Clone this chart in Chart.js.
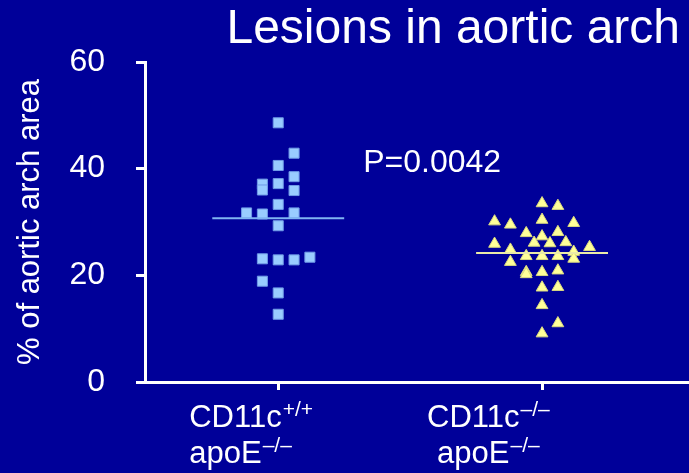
<!DOCTYPE html>
<html lang="en">
<head>
<meta charset="utf-8">
<title>Lesions in aortic arch</title>
<style>
  body { margin: 0; background: #000099; }
  canvas { display: block; }
</style>
</head>
<body>
<canvas id="chart" width="689" height="473"></canvas>
<script src="https://cdn.jsdelivr.net/npm/chart.js@4.4.1/dist/chart.umd.min.js"></script>
<script>
const chartTitle = 'Lesions in aortic arch';
const yTitle = '% of aortic arch area';
const pValueText = 'P=0.0042';
// each category label: lines of [text, superscript]
const categoryLines = [
  [['CD11c', '+/+'], ['apoE', '–/–']],
  [['CD11c', '–/–'], ['apoE', '–/–']]
];
const yTicks = [0, 20, 40, 60];

// CD11c+/+ apoE-/- (squares); slot = column offset within the dot plot
const wildValues = [48.6, 42.9, 40.6, 38.5, 37.1, 36.0, 37.2, 35.9, 33.3, 31.7,
                    31.5, 31.7, 29.3, 23.1, 22.9, 22.9, 23.4, 18.9, 16.7, 12.7];
const wildSlots  = [0, 1, 0, 1, -1, -1, 0, 1, 0, -2,
                    -1, 1, 0, -1, 0, 1, 2, -1, 0, 0];

// CD11c-/- apoE-/- (triangles)
const knockValues = [33.5, 33.0, 30.1, 29.5, 30.4, 29.8, 27.9, 27.3, 28.1, 26.1,
                     26.0, 26.2, 25.9, 24.8, 25.3, 24.4, 23.6, 23.6, 23.6, 23.1,
                     22.5, 20.6, 20.2, 20.6, 20.9, 17.7, 17.8, 14.4, 11.0, 9.1];
const knockSlots  = [0, 1, -3, -2, 0, 2, -1, 0, 1, -0.5,
                     0.5, 1.5, -3, -2, 3, 2, -1, 0, 1, 2,
                     -2, -1, -1, 0, 1, 0, 1, 0, 1, 0];

const groupMeans = [30.7, 24.2];

const slotWidth = 0.06;
const meanHalfWidth = 0.25;

function dots(values, slots, center) {
  return values.map((v, i) => ({ x: center + slots[i] * slotWidth, y: v }));
}
function meanLine(center, m) {
  return [{ x: center - meanHalfWidth, y: m }, { x: center + meanHalfWidth, y: m }];
}

const FONT = '"Liberation Sans", Arial, sans-serif';

const textPlugin = {
  id: 'slideText',
  beforeDraw(chart) {
    const ctx = chart.ctx;
    ctx.save();
    ctx.fillStyle = '#000099';
    ctx.fillRect(0, 0, chart.width, chart.height);
    ctx.restore();
  },
  afterDraw(chart) {
    const ctx = chart.ctx;
    const xs = chart.scales.x;
    const ys = chart.scales.y;
    ctx.save();
    ctx.fillStyle = '#ffffff';
    ctx.textBaseline = 'alphabetic';

    ctx.font = '48px ' + FONT;
    ctx.textAlign = 'right';
    ctx.fillText(chartTitle, 680, 43);

    ctx.font = '32px ' + FONT;
    ctx.textAlign = 'left';
    ctx.fillText(pValueText, xs.getPixelForValue(1.322), ys.getPixelForValue(39.4));

    const lineOffsets = [[-89, -89], [-115, -105]];
    categoryLines.forEach((lines, i) => {
      const cx = xs.getPixelForValue(i + 1);
      lines.forEach(([main, sup], j) => {
        const left = cx + lineOffsets[i][j];
        const base = 427 + j * 36;
        ctx.font = '31px ' + FONT;
        ctx.fillText(main, left, base);
        const w = ctx.measureText(main).width;
        ctx.font = '21px ' + FONT;
        ctx.fillText(sup, left + w + 1, base - 11);
      });
    });
    ctx.restore();
  }
};

new Chart(document.getElementById('chart'), {
  type: 'scatter',
  data: {
    datasets: [
      {
        type: 'line',
        data: meanLine(1, groupMeans[0]),
        borderColor: '#7fb4f2',
        borderWidth: 2,
        pointRadius: 0,
        order: 0
      },
      {
        type: 'line',
        data: meanLine(2, groupMeans[1]),
        borderColor: '#eaeaa8',
        borderWidth: 2,
        pointRadius: 0,
        order: 0
      },
      {
        data: dots(wildValues, wildSlots, 1),
        pointStyle: 'rect',
        pointRadius: 7.1,
        backgroundColor: '#99ccff',
        borderColor: '#6f9ae6',
        borderWidth: 1,
        order: 1
      },
      {
        data: dots(knockValues, knockSlots, 2),
        pointStyle: 'triangle',
        pointRadius: 6.8,
        backgroundColor: '#ffff99',
        borderColor: '#d8d880',
        borderWidth: 1,
        order: 1
      }
    ]
  },
  options: {
    responsive: false,
    animation: false,
    layout: { autoPadding: false, padding: { top: 62, right: 0, left: 0, bottom: 0 } },
    plugins: { legend: { display: false }, tooltip: { enabled: false } },
    scales: {
      x: {
        type: 'linear',
        min: 0.495,
        max: 2.557,
        afterBuildTicks: s => { s.ticks = [{ value: 1 }, { value: 2 }]; },
        afterFit: s => { s.height = 91; },
        ticks: { display: false },
        grid: { drawOnChartArea: false, drawTicks: true, tickLength: 8, color: '#ffffff', lineWidth: 3 },
        border: { color: '#ffffff', width: 3 }
      },
      y: {
        min: 0,
        max: 60,
        afterBuildTicks: s => { s.ticks = yTicks.map(v => ({ value: v })); },
        afterFit: s => { s.width = 145; },
        ticks: { color: '#ffffff', font: { family: FONT, size: 32 }, padding: 31 },
        grid: { drawOnChartArea: false, drawTicks: true, tickLength: 9, color: '#ffffff', lineWidth: 3 },
        border: { color: '#ffffff', width: 3 },
        title: {
          display: true,
          text: yTitle,
          color: '#ffffff',
          font: { family: FONT, size: 31 },
          padding: { top: 12, bottom: 0 }
        }
      }
    }
  },
  plugins: [textPlugin]
});
</script>
</body>
</html>
